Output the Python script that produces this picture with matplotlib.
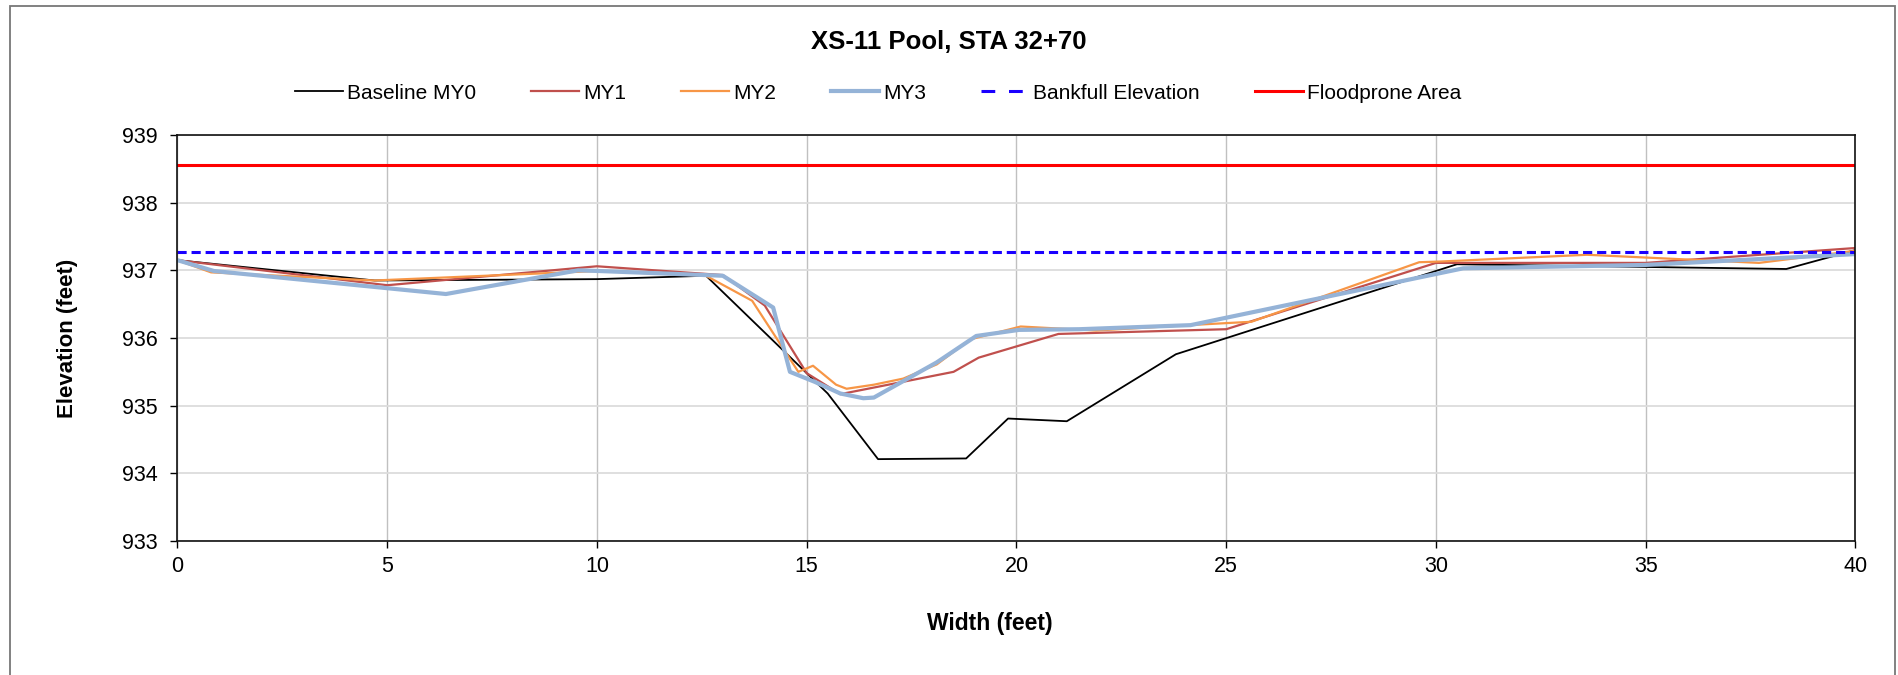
import matplotlib
matplotlib.use('Agg')
import matplotlib.pyplot as plt
from matplotlib.patches import Rectangle

plt.rcParams['font.family'] = ['Liberation Sans', 'DejaVu Sans']

title = 'XS-11 Pool, STA 32+70'

base_x = [0, 4.7, 10.0, 12.6, 15.5, 16.7, 18.8, 19.8, 21.2, 23.8, 30.5, 38.35, 40]
base_y = [937.15, 936.85, 936.87, 936.92, 935.18, 934.21, 934.22, 934.81, 934.77,
          935.76, 937.09, 937.02, 937.30]

my1_x = [0, 5.0, 10.0, 13.0, 14.0, 15.0, 15.8, 18.5, 19.1, 21.0, 25.0, 30.0, 35.0, 40]
my1_y = [937.15, 936.78, 937.06, 936.93, 936.48, 935.48, 935.17, 935.50, 935.71,
         936.06, 936.13, 937.11, 937.11, 937.33]

my2_x = [0, 0.8, 4.7, 10.0, 12.6, 13.7, 14.8, 15.15, 15.7, 15.95, 16.6, 17.3, 18.1,
         18.9, 20.1, 21.9, 24.1, 25.6, 29.6, 30.1, 33.6, 37.7, 40]
my2_y = [937.15, 936.97, 936.85, 936.99, 936.92, 936.55, 935.50, 935.59, 935.31,
         935.25, 935.31, 935.40, 935.61, 935.98, 936.17, 936.11, 936.19, 936.24,
         937.12, 937.13, 937.23, 937.11, 937.29]

my3_x = [0, 0.87, 6.4, 9.55, 10.05, 13.0, 14.2, 14.6, 15.2, 15.8, 16.35, 16.6, 18.1,
         19.04, 20.06, 21.5, 24.15, 30.65, 35.0, 40]
my3_y = [937.15, 936.99, 936.65, 937.0, 936.99, 936.92, 936.45, 935.50, 935.35,
         935.18, 935.11, 935.12, 935.64, 936.03, 936.12, 936.13, 936.19, 937.03,
         937.08, 937.24]

bankfull_x = [0, 40]
bankfull_y = [937.27, 937.27]
flood_x = [0, 40]
flood_y = [938.55, 938.55]

x_ticks = [0, 5, 10, 15, 20, 25, 30, 35, 40]
y_ticks = [933, 934, 935, 936, 937, 938, 939]

fig = plt.figure(figsize=(18.98, 6.75), dpi=100)
ax = fig.add_axes([0.0935, 0.1985, 0.8841, 0.6015])

ax.plot(base_x, base_y, color='black', lw=1.3, label='Baseline MY0')
ax.plot(my1_x, my1_y, color='#C0504D', lw=1.6, label='MY1')
ax.plot(my2_x, my2_y, color='#F79646', lw=1.6, label='MY2')
ax.plot(my3_x, my3_y, color='#95B3D7', lw=3.0, label='MY3')
ax.plot(bankfull_x, bankfull_y, color='#1a00ff', lw=2.2, dashes=(3, 1.6),
        label='Bankfull Elevation')
ax.plot(flood_x, flood_y, color='#FF0000', lw=2.2, label='Floodprone Area')

ax.set_xlim(0, 40)
ax.set_ylim(933, 939)
ax.set_xticks(x_ticks)
ax.set_yticks(y_ticks)
ax.tick_params(direction='out', length=5, width=1, labelsize=15.5, colors='black')
ax.tick_params(axis='y', pad=9)
ax.tick_params(axis='x', pad=6)
ax.yaxis.grid(True, color='#dcdcdc', lw=1.3)
ax.xaxis.grid(True, color='#c0c0c0', lw=1.0)
ax.set_axisbelow(True)
for s in ax.spines.values():
    s.set_linewidth(1.2)
    s.set_color('#111111')

fig.text(0.4997, 0.938, title, ha='center', va='center', fontsize=18.5, fontweight='bold')
fig.text(0.5216, 0.077, 'Width (feet)', ha='center', va='center', fontsize=16.5,
         fontweight='bold')
fig.text(0.0358, 0.4993, 'Elevation (feet)', ha='center', va='center', rotation=90,
         fontsize=16, fontweight='bold')

leg = fig.legend(loc='center', bbox_to_anchor=(878 / 1898, 0.862), ncol=6, frameon=False,
                 fontsize=15, handlelength=2.3, handletextpad=0.2, columnspacing=2.64)
# excel draws the dashed handle with fewer, longer dashes
leg.get_lines()[4].set_dashes((4.5, 4.5))

fig.patches.append(Rectangle((10 / 1898, -0.1), 1885 / 1898, 1.091, transform=fig.transFigure,
                             fill=False, edgecolor='#777777', lw=1.3))

fig.savefig('out.png', dpi=100)
